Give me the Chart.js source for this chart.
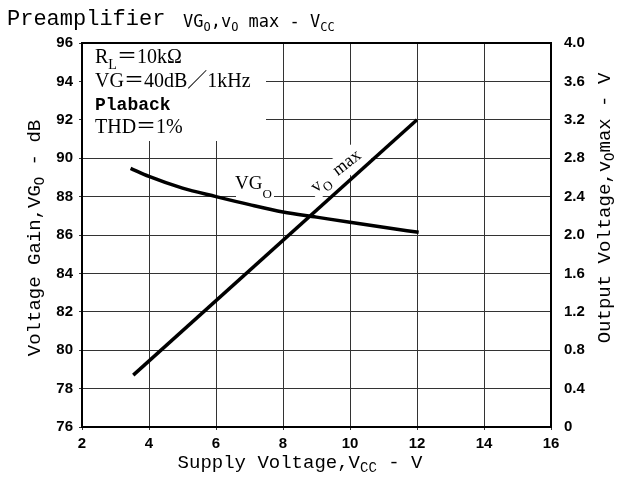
<!DOCTYPE html>
<html>
<head>
<meta charset="utf-8">
<script src="https://cdn.jsdelivr.net/npm/chart.js@4"></script>
<style>
  html,body{margin:0;padding:0;background:#fff;}
  canvas{display:block;}
</style>
</head>
<body>
<canvas id="c" width="620" height="477"></canvas>
<script>
// values
const vccGain = [3.45, 4, 5, 6, 7, 8, 9, 10, 11, 12.05];
const gainDb  = [89.47, 89.05, 88.44, 88.0, 87.58, 87.2, 86.93, 86.66, 86.4, 86.14];
const vccVo   = [3.53, 12.0];
const voMax   = [0.54, 3.2];

const MONO  = '"Liberation Mono", monospace';
const SMONO = '"DejaVu Sans Mono", monospace';
const SERIF = '"Liberation Serif", "Noto Sans CJK JP", serif';
const TICKF = {family:'"Liberation Sans", sans-serif', size:15, weight:'bold'};

// draws [text, font, dy] pieces one after another, returns width
function rich(ctx, parts, x, y, measureOnly){
  let cx = x;
  for(const [t, f, dy] of parts){
    ctx.font = f;
    if(!measureOnly) ctx.fillText(t, cx, y + (dy||0));
    cx += ctx.measureText(t).width;
  }
  return cx - x;
}
function richCenter(ctx, parts, x, y){
  const w = rich(ctx, parts, 0, 0, true);
  rich(ctx, parts, x - w/2, y);
}

const texts = {
  id:'texts',
  beforeDatasetsDraw(chart){
    const {ctx, chartArea:a} = chart;
    ctx.save();
    ctx.fillStyle = '#fff';
    // grid is left out behind the condition block and the curve labels
    ctx.fillRect(a.left+1, a.top+1, 265-a.left, 140-a.top);
    ctx.fillRect(236, 170, 38, 34);
    ctx.translate(313,194); ctx.rotate(-0.66);
    ctx.fillRect(0, -16, 68, 24);
    ctx.restore();
  },
  afterDatasetsDraw(chart){
    const {ctx, chartArea:a} = chart;
    ctx.save();
    ctx.strokeStyle = '#000'; ctx.lineWidth = 2;
    ctx.strokeRect(a.left, a.top, a.right-a.left, a.bottom-a.top);
    ctx.restore();
  },
  afterDraw(chart){
    const {ctx} = chart;
    ctx.save();
    ctx.fillStyle = '#000';
    ctx.textBaseline = 'alphabetic';

    // title
    rich(ctx, [['Preamplifier', '22px '+MONO]], 7, 25);
    rich(ctx, [
      ['VG', '17px '+SMONO], ['O', '12px '+SMONO, 4], [',v', '17px '+SMONO], ['O', '12px '+SMONO, 4],
      [' max - V', '17px '+SMONO], ['CC', '12px '+SMONO, 4]
    ], 183, 27);

    // conditions
    rich(ctx, [['R', '20px '+SERIF], ['L', '14px '+SERIF, 6], ['＝10kΩ', '20px '+SERIF]], 95, 63);
    rich(ctx, [['VG＝40dB／1kHz', '20px '+SERIF]], 95, 87);
    rich(ctx, [['Plaback', 'bold 18px '+MONO]], 95, 110);
    rich(ctx, [['THD＝1%', '20px '+SERIF]], 95, 133);

    // curve labels
    rich(ctx, [['VG', '19px '+SERIF], ['O', '13px '+SERIF, 9]], 235, 189);
    ctx.save();
    ctx.translate(316,193); ctx.rotate(-0.66);
    rich(ctx, [['v', '18px '+SERIF], ['O', '13px '+SERIF, 6], ['  max', '18px '+SERIF]], 0, 0);
    ctx.restore();

    // axis titles
    richCenter(ctx, [['Supply Voltage,V', '19px '+MONO], ['CC', '14px '+MONO, 4], [' - V', '19px '+MONO]], 300, 468);
    ctx.save();
    ctx.translate(40, 238); ctx.rotate(-Math.PI/2);
    richCenter(ctx, [['Voltage Gain,VG', '19px '+MONO], ['O', '14px '+MONO, 4], [' - dB', '19px '+MONO]], 0, 0);
    ctx.restore();
    ctx.save();
    ctx.translate(610, 208); ctx.rotate(-Math.PI/2);
    richCenter(ctx, [['Output Voltage,v', '19px '+MONO], ['O', '14px '+MONO, 4], ['max - V', '19px '+MONO]], 0, 0);
    ctx.restore();

    ctx.restore();
  }
};

const toPts = (xs, ys) => xs.map((x,i)=>({x, y: ys[i]}));

new Chart(document.getElementById('c'), {
  type: 'scatter',
  data: { datasets: [
    { label:'VGo', data: toPts(vccGain, gainDb), yAxisID:'y', showLine:true,
      borderColor:'#000', borderWidth:3.5, pointRadius:0, cubicInterpolationMode:'monotone', fill:false },
    { label:'vo max', data: toPts(vccVo, voMax), yAxisID:'y2', showLine:true,
      borderColor:'#000', borderWidth:3.5, pointRadius:0, fill:false }
  ]},
  options: {
    responsive:false, animation:false,
    layout:{ padding:{ top:43, left:0, right:0, bottom:0 } },
    plugins:{ legend:{display:false}, tooltip:{enabled:false} },
    scales:{
      x:{ type:'linear', min:2, max:16,
          ticks:{ stepSize:2, color:'#000', font:TICKF, padding:5, maxRotation:0 },
          grid:{ color:'#333', lineWidth:1, tickLength:3 },
          border:{ color:'#000', width:2 },
          afterFit(s){ s.height = 50; } },
      y:{ position:'left', min:76, max:96,
          ticks:{ stepSize:2, color:'#000', font:TICKF, padding:6 },
          grid:{ color:'#333', lineWidth:1, tickLength:3 },
          border:{ color:'#000', width:2 },
          afterFit(s){ s.width = 82; } },
      y2:{ position:'right', min:0, max:4,
          ticks:{ stepSize:0.4, color:'#000', font:TICKF, padding:13,
                  callback:(v)=> v===0 ? '0' : v.toFixed(1) },
          grid:{ drawOnChartArea:false, drawTicks:false },
          border:{ color:'#000', width:2 },
          afterFit(s){ s.width = 69; } }
    }
  },
  plugins:[texts]
});
</script>
</body>
</html>
